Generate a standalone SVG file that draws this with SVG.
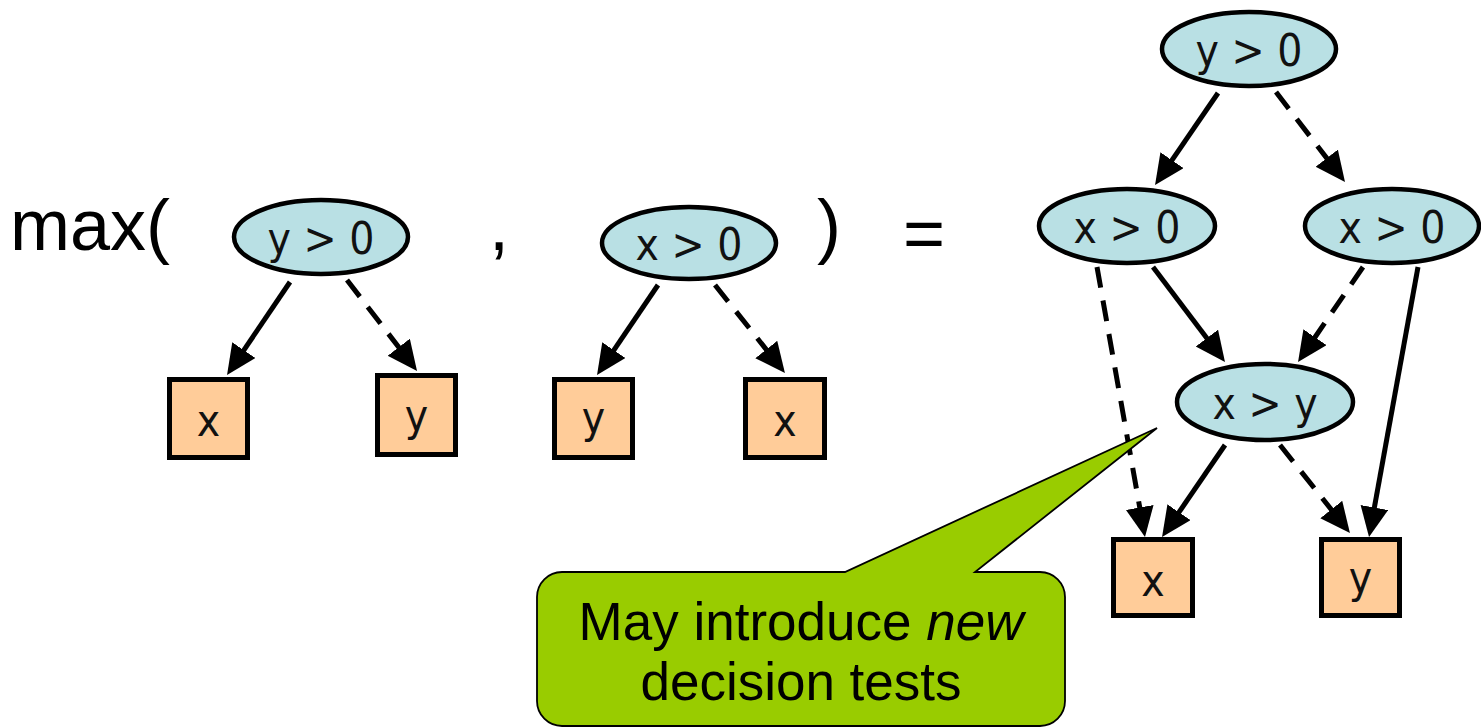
<svg xmlns="http://www.w3.org/2000/svg" width="1481" height="728" viewBox="0 0 1481 728">
  <style>
    .test { fill: #B9E0E4; stroke: #000; stroke-width: 4.5; }
    .leaf { fill: #FFCC99; stroke: #000; stroke-width: 5; }
    .lbl { font-family: "DejaVu Sans Condensed", "DejaVu Sans", sans-serif; font-stretch: condensed; font-size: 44px; fill: #111; text-anchor: middle; }
    .big { font-family: "Liberation Sans", Arial, sans-serif; font-size: 72px; fill: #000; }
    .edge { fill: none; stroke: #000; stroke-width: 5; marker-end: url(#head); }
    .no { stroke-dasharray: 21 13; }
    .note { font-family: "Liberation Sans", Arial, sans-serif; font-size: 53px; fill: #000; text-anchor: middle; }
  </style>
  <defs>
    <marker id="head" markerUnits="userSpaceOnUse" markerWidth="32" markerHeight="30" viewBox="0 0 32 30" refX="6" refY="14" orient="auto">
      <path d="M0,0 L30,14 L0,28 Z" fill="#000"/>
    </marker>
  </defs>

  <rect width="1481" height="728" fill="#fff"/>

  <!-- equation text -->
  <g id="equation">
    <text class="big" x="10" y="250">max(</text>
    <text class="big" x="489" y="250">,</text>
    <text class="big" x="817" y="250">)</text>
    <text class="big" x="903" y="258">=</text>
  </g>

  <!-- connectors -->
  <g id="connectors">
    <!-- first operand -->
    <line class="edge" x1="290" y1="282" x2="240.5" y2="355.1"/>
    <line class="edge no" x1="347" y1="280" x2="402.4" y2="352"/>
    <!-- second operand -->
    <line class="edge" x1="658" y1="285" x2="610.5" y2="355.1"/>
    <line class="edge no" x1="715" y1="285" x2="770" y2="354.2"/>
    <!-- result -->
    <line class="edge" x1="1218" y1="93" x2="1168.6" y2="165.2"/>
    <line class="edge no" x1="1276" y1="92" x2="1330.4" y2="162.9"/>
    <line class="edge" x1="1153" y1="267" x2="1210.5" y2="342.9"/>
    <line class="edge no" x1="1097" y1="267" x2="1140.8" y2="513.4"/>
    <line class="edge no" x1="1363" y1="267" x2="1311.6" y2="342.2"/>
    <line class="edge" x1="1418" y1="267" x2="1373.3" y2="513.4"/>
    <line class="edge" x1="1225" y1="445" x2="1175.6" y2="517.2"/>
    <line class="edge no" x1="1280" y1="445" x2="1335" y2="514.2"/>
  </g>

  <!-- first operand: y > 0 -->
  <g id="a-root">
    <ellipse class="test" cx="321" cy="237" rx="87" ry="37"/>
    <text class="lbl" x="321" y="254">y &gt; 0</text>
  </g>
  <g id="a-hi">
    <rect class="leaf" x="169.5" y="379.5" width="78" height="78"/>
    <text class="lbl" x="208.5" y="436">x</text>
  </g>
  <g id="a-lo">
    <rect class="leaf" x="377.5" y="375.5" width="78" height="79"/>
    <text class="lbl" x="416.5" y="431">y</text>
  </g>

  <!-- second operand: x > 0 -->
  <g id="b-root">
    <ellipse class="test" cx="689" cy="243" rx="87" ry="36"/>
    <text class="lbl" x="689" y="260">x &gt; 0</text>
  </g>
  <g id="b-hi">
    <rect class="leaf" x="554.5" y="379.5" width="78" height="78"/>
    <text class="lbl" x="593.5" y="433">y</text>
  </g>
  <g id="b-lo">
    <rect class="leaf" x="745.5" y="379.5" width="79" height="78"/>
    <text class="lbl" x="785" y="436">x</text>
  </g>

  <!-- result diagram -->
  <g id="c-root">
    <ellipse class="test" cx="1249" cy="49" rx="87" ry="37"/>
    <text class="lbl" x="1249" y="66">y &gt; 0</text>
  </g>
  <g id="c-left">
    <ellipse class="test" cx="1127" cy="226" rx="88" ry="37"/>
    <text class="lbl" x="1127" y="243">x &gt; 0</text>
  </g>
  <g id="c-right">
    <ellipse class="test" cx="1392" cy="226" rx="87" ry="37"/>
    <text class="lbl" x="1392" y="243">x &gt; 0</text>
  </g>
  <g id="c-cmp">
    <ellipse class="test" cx="1265" cy="402" rx="88" ry="38"/>
    <text class="lbl" x="1265" y="419">x &gt; y</text>
  </g>
  <g id="c-x">
    <rect class="leaf" x="1113.5" y="539.5" width="79" height="76"/>
    <text class="lbl" x="1153" y="596">x</text>
  </g>
  <g id="c-y">
    <rect class="leaf" x="1321.5" y="539.5" width="78" height="76"/>
    <text class="lbl" x="1360.5" y="593">y</text>
  </g>

  <!-- callout -->
  <g id="callout">
    <path d="M562,572 L845,572 L1157,428 L975,572 L1040,572 A25,25 0 0 1 1065,597 L1065,701 A25,25 0 0 1 1040,726 L562,726 A25,25 0 0 1 537,701 L537,597 A25,25 0 0 1 562,572 Z" fill="#99CC00" stroke="#000" stroke-width="1.8"/>
    <text class="note" x="801" y="640">May introduce <tspan font-style="italic">new</tspan></text>
    <text class="note" x="801" y="700">decision tests</text>
  </g>
</svg>
